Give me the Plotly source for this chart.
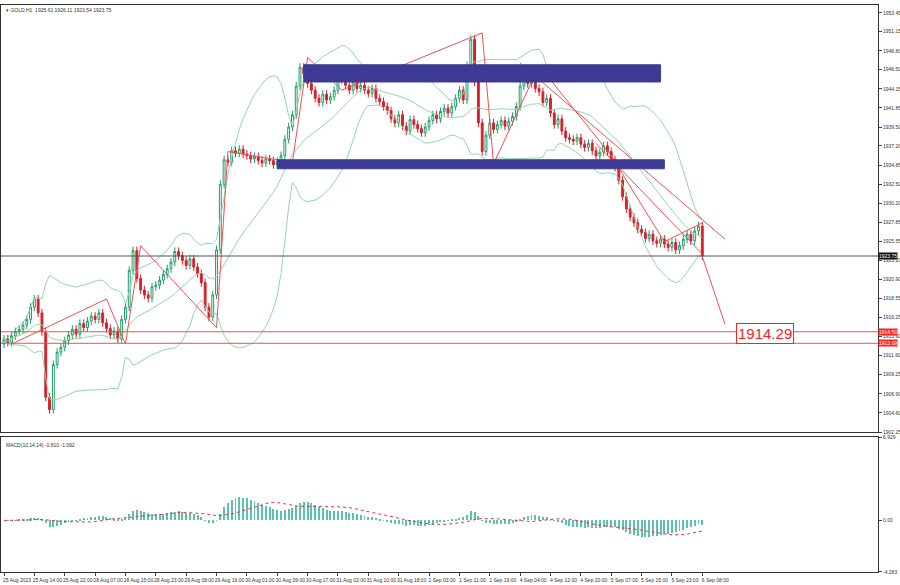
import numpy as np, pandas as pd
import plotly.graph_objects as go
from plotly.subplots import make_subplots

closes = [1913.6,1913.2,1914.0,1914.5,1914.8,1915.3,1916.0,1917.5,
1918.5,1916.8,1914.5,1906.5,1905.0,1910.5,1912.0,1912.6,
1913.4,1914.1,1914.8,1914.2,1915.5,1915.0,1915.8,1916.4,
1916.0,1916.8,1915.6,1914.9,1914.1,1914.6,1913.6,1916.0,
1917.5,1922.0,1924.4,1921.0,1919.6,1919.0,1918.6,1920.0,
1920.2,1920.8,1921.5,1922.2,1923.0,1924.3,1923.8,1923.2,
1922.6,1923.4,1922.4,1921.6,1920.5,1917.5,1916.3,1919.0,
1924.5,1932.5,1935.5,1935.2,1936.6,1936.3,1936.8,1936.2,
1936.0,1935.6,1935.9,1935.4,1935.1,1935.6,1935.4,
1934.9,1935.3,1936.0,1938.0,1939.5,1941.0,1944.5,1946.8,
1946.0,1944.8,1944.0,1943.0,1942.5,1943.5,1942.8,1943.2,
1944.0,1945.2,1946.0,1944.6,1944.0,1945.0,1944.2,1944.6,
1944.0,1943.6,1944.2,1943.0,1942.6,1942.0,1941.5,
1940.5,1940.0,1941.0,1939.6,1939.0,1940.4,1939.8,1939.3,
1938.8,1939.5,1940.3,1941.0,1940.5,1941.4,1941.8,1941.2,
1942.0,1943.0,1944.0,1942.8,1947.0,1950.2,1945.0,1940.0,
1936.5,1938.5,1940.0,1939.2,1939.8,1940.3,1939.6,1940.2,
1940.8,1942.0,1944.5,1945.2,1944.8,1945.5,1944.2,1943.8,
1942.5,1943.0,1941.2,1939.8,1940.5,1939.0,1938.2,1938.0,
1937.8,1938.2,1937.4,1937.0,1937.5,1936.6,1936.0,
1936.4,1937.2,1936.5,1935.5,1934.6,1933.0,1931.0,1929.5,
1928.5,1927.8,1927.0,1926.6,1925.9,1926.4,1925.6,1925.3,
1925.8,1925.2,1924.8,1925.4,1924.5,1925.0,1925.8,
1926.4,1925.6,1926.8,1927.4,1923.75]
first_open = 1913.0
tick_labels = ["25 Aug 2023","25 Aug 14:00","25 Aug 22:00","28 Aug 07:00","28 Aug 15:00","28 Aug 23:00",
"29 Aug 08:00","29 Aug 16:00","30 Aug 01:00","30 Aug 09:00","30 Aug 17:00","31 Aug 02:00","31 Aug 10:00",
"31 Aug 18:00","1 Sep 03:00","1 Sep 11:00","1 Sep 19:00","4 Sep 04:00","4 Sep 12:00","4 Sep 20:00",
"5 Sep 07:00","5 Sep 15:00","5 Sep 23:00","6 Sep 08:00"]
price_ticks = [1953.45,1951.15,1948.80,1946.50,1944.15,1941.85,1939.50,1937.20,1934.85,1932.50,1930.20,
1927.85,1925.55,1923.20,1920.90,1918.55,1916.25,1913.90,1911.60,1909.25,1906.90,1904.60,1902.25]
zones = [(79,173,1945.0,1947.1),(72,174,1934.4,1935.5)]
zig_idx = [2,27,32,36,56,59,76,80,89,126,129,141,160,174,184]
zig_px = [1913,1918.5,1913,1925,1915,1936.5,1935.2,1948,1944,1951,1935,1947,1936,1925.5,1927.8]
trend1 = [(136,1947.3),(190,1925.8)]
trend2 = [(156,1937.5),(184,1924.0)]
trend3 = [(184,1923.7),(190,1915.4)]
red_levels = [1914.50,1913.09]
last_price = 1923.75
target = "1914.29"

n = len(closes)
x = np.arange(n)
c = np.array(closes)
o = np.concatenate([[first_open], c[:-1]])
h = np.maximum(o, c) + 0.5
l = np.minimum(o, c) - 0.5
s = pd.Series(c)
mid = s.rolling(20, min_periods=1).mean()
sd = s.rolling(20, min_periods=2).std(ddof=0).fillna(0)
up, lo = mid + 2*sd, mid - 2*sd
macd = s.ewm(span=10).mean() - s.ewm(span=14).mean()
sig = macd.rolling(14, min_periods=1).mean()

fig = make_subplots(rows=2, cols=1, shared_xaxes=True, row_heights=[0.76,0.24], vertical_spacing=0.008)
for y in (up, mid, lo):
    fig.add_trace(go.Scatter(x=x, y=y, mode="lines", line=dict(color="#8fd6b0", width=1)), 1, 1)
fig.add_trace(go.Candlestick(x=x, open=o, high=h, low=l, close=c,
    increasing=dict(line=dict(color="#1e9e6a", width=1), fillcolor="#ffffff"),
    decreasing=dict(line=dict(color="#d8202a", width=1), fillcolor="#d8202a")), 1, 1)
fig.add_trace(go.Scatter(x=zig_idx, y=zig_px, mode="lines", line=dict(color="#f05050", width=1)), 1, 1)
for t in (trend1, trend2, trend3):
    fig.add_trace(go.Scatter(x=[p[0] for p in t], y=[p[1] for p in t], mode="lines",
                             line=dict(color="#f05050", width=1)), 1, 1)
for x0, x1, y0, y1 in zones:
    fig.add_shape(type="rect", x0=x0, x1=x1, y0=y0, y1=y1, fillcolor="#3d3a94",
                  line=dict(color="#3d3a94", width=1), row=1, col=1)
for lv in red_levels:
    fig.add_shape(type="line", xref="x domain", x0=0, x1=1, y0=lv, y1=lv, line=dict(color="#f05050", width=1), row=1, col=1)
    fig.add_annotation(xref="paper", x=1, xanchor="left", yref="y", y=lv, text=f"{lv:.2f}", showarrow=False,
                       font=dict(size=5, color="white"), bgcolor="#ff2020", borderpad=0)
fig.add_shape(type="line", xref="x domain", x0=0, x1=1, y0=last_price, y1=last_price, line=dict(color="#555", width=1), row=1, col=1)
fig.add_annotation(xref="paper", x=1, xanchor="left", yref="y", y=last_price, text=f"{last_price:.2f}", showarrow=False,
                   font=dict(size=5, color="white"), bgcolor="#111", borderpad=0)
fig.add_annotation(x=193, y=1914.29, xanchor="left", text=target, showarrow=False,
                   font=dict(size=15, color="#ff2020", family="Arial"), bordercolor="#ff2020", borderwidth=1, borderpad=1, bgcolor="white")
fig.add_annotation(xref="paper", yref="paper", x=0.003, y=1, xanchor="left", yanchor="top",
                   text="▾ GOLD,H1  1925.61 1926.11 1923.54 1923.75", showarrow=False, font=dict(size=5, color="#333"))
fig.add_annotation(xref="paper", yref="paper", x=0.003, y=0.232, xanchor="left", yanchor="top",
                   text="MACD(10,14,14) -0.810 -1.092", showarrow=False, font=dict(size=5, color="#333"))

fig.add_trace(go.Bar(x=x, y=macd, marker=dict(color="#5cc2b0", line=dict(width=0)), width=0.25), 2, 1)
fig.add_trace(go.Scatter(x=x, y=sig, mode="lines", line=dict(color="#f03030", width=1, dash="dot")), 2, 1)

rng = [-0.79, 230.3]
fig.update_xaxes(range=rng, showgrid=False, mirror=True, showline=True, linecolor="#333", ticks="outside", ticklen=3,
                 automargin=False, rangeslider=dict(visible=False))
fig.update_xaxes(showticklabels=False, ticks="", row=1, col=1)
fig.update_xaxes(tickvals=list(range(0, 8*len(tick_labels), 8)), ticktext=tick_labels, tickangle=0,
                 ticklabelshift=13, tickfont=dict(size=5, color="#333"), row=2, col=1)
fig.update_yaxes(side="right", showgrid=False, mirror=True, showline=True, linecolor="#333", ticks="outside", ticklen=3,
                 tickfont=dict(size=5, color="#333"), automargin=False)
fig.update_yaxes(range=[1902.2, 1954.4], tickvals=price_ticks, ticktext=[f"{v:.2f}" for v in price_ticks], row=1, col=1)
fig.update_yaxes(range=[-4.283, 6.929], tickvals=[6.929, 0.0, -4.283], ticktext=["6.929","0.00","-4.283"], row=2, col=1)
fig.update_layout(width=900, height=585, margin=dict(l=1, r=22, t=5, b=13, autoexpand=False), showlegend=False,
                  plot_bgcolor="white", paper_bgcolor="white", font=dict(family="Arial"), bargap=0)
fig.write_html("out.html", config={"displayModeBar": False})
with open("out.html") as f:
    html = f.read()
html = html.replace("<head>", "<head><style>html,body{margin:0;padding:0;overflow:hidden}</style>", 1)
with open("out.html", "w") as f:
    f.write(html)
